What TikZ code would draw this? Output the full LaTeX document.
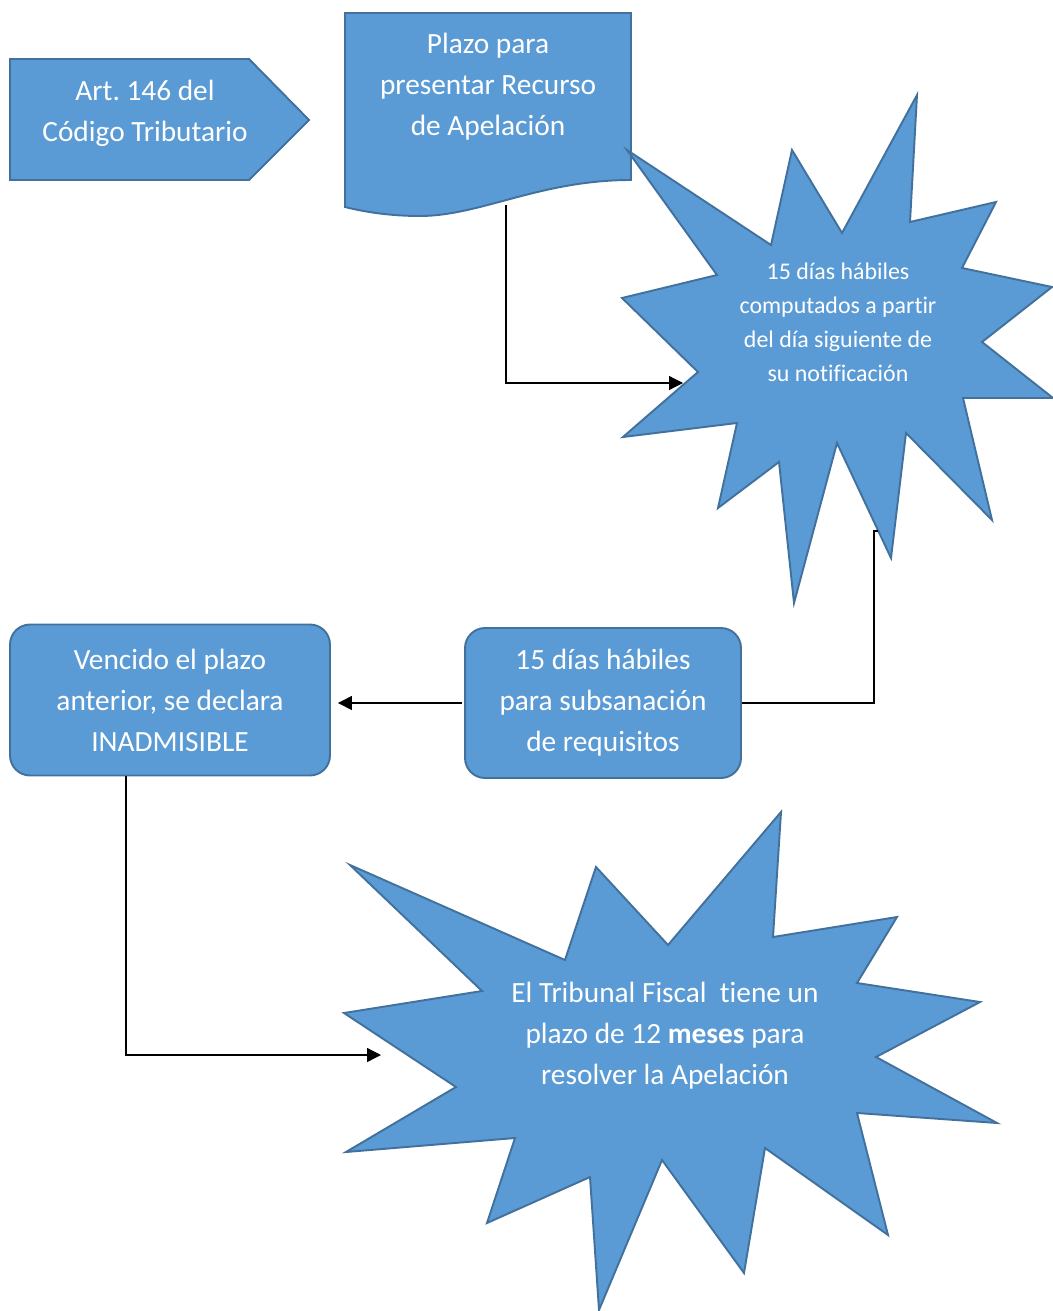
\documentclass[tikz,border=0pt]{standalone}
\usepackage{fontspec}
\setmainfont{Carlito}[Ligatures={NoCommon}]
\usetikzlibrary{arrows.meta}
\definecolor{officeblue}{HTML}{5B9BD5}
\definecolor{officeedge}{HTML}{41719C}
\frenchspacing

\begin{document}
\begin{tikzpicture}[
    x=0.02cm, y=-0.02cm,
    form/.style={draw=officeedge, fill=officeblue, line width=1.1pt, line join=miter},
    txt/.style={align=center, text=white, font=\fontsize{16.7}{23.3}\selectfont},
    small/.style={align=center, text=white, font=\fontsize{13.6}{19.4}\selectfont},
    box/.style={form, rounded corners=0.4cm, txt, inner sep=0pt},
    link/.style={-{Triangle[length=0.28cm, width=0.28cm]}, line width=0.7pt},
    wire/.style={line width=0.7pt}
]
\useasboundingbox (0,0) rectangle (1053,1311);

% article tag
\draw[form] (10,59) -- (249,59) -- (309,120) -- (249,180) -- (10,180) -- cycle;
\node[txt] (art) at (145,113) {Art. 146 del\\Código Tributario};

% document shape
\draw[form] (345,13) -- (631,13) -- (631,180)
    .. controls (540,180) and (480,216) .. (420,216)
    .. controls (390,216) and (365,212) .. (345,207) -- cycle;
\node[txt] (doc) at (488,87) {Plazo para\\presentar Recurso\\de Apelación};
\coordinate (docb) at (506,205);

% first burst
\draw[form] (627,150) -- (771,245) -- (792,150) -- (842,233) -- (917,95)
    -- (910,222) -- (996,202) -- (962,268) -- (1052,287) -- (982,342)
    -- (1053,398) -- (963,398) -- (992,520) -- (906,433) -- (891,558)
    -- (837,443) -- (794,603) -- (779,462) -- (718,508) -- (737,423)
    -- (623,437) -- (698,372) -- (622,298) -- (717,275) -- cycle;
\node[small] (plazo) at (838,322) {15 días hábiles\\computados a partir\\del día siguiente de\\su notificación};
\coordinate (plazoin) at (683,383);
\coordinate (plazoout) at (878,531);

% boxes
\node[box, minimum width=5.52cm, minimum height=3cm] (subs) at (603,703) {15 días hábiles\\para subsanación\\de requisitos};
\node[box, minimum width=6.4cm, minimum height=3.02cm] (venc) at (170,700) {Vencido el plazo\\anterior, se declara\\INADMISIBLE};
\coordinate (vencb) at (126,776);

% second burst
\draw[form] (350,865) -- (565,960) -- (596,867) -- (668,945) -- (781,812)
    -- (773,937) -- (897,917) -- (857,983) -- (980,1002) -- (876,1057)
    -- (997,1123) -- (857,1113) -- (888,1235) -- (765,1148) -- (744,1273)
    -- (662,1160) -- (599,1310) -- (590,1177) -- (487,1223) -- (515,1138)
    -- (346,1152) -- (456,1087) -- (344,1013) -- (482,991) -- cycle;
\node[txt] (tribunal) at (665,1036) {El Tribunal Fiscal\ \ tiene un\\plazo de 12 \textbf{meses} para\\resolver la Apelación};
\coordinate (tribin) at (381,1055);

% connectors
\draw[link] (docb) |- (plazoin);
\draw[wire] (plazoout) -- ++(-4,0) |- (subs.east);
\draw[link, shorten >=0.14cm] ([xshift=-0.04cm]subs.west) -- (subs.west -| venc.east);
\draw[link] (vencb) |- (tribin);
\end{tikzpicture}
\end{document}
